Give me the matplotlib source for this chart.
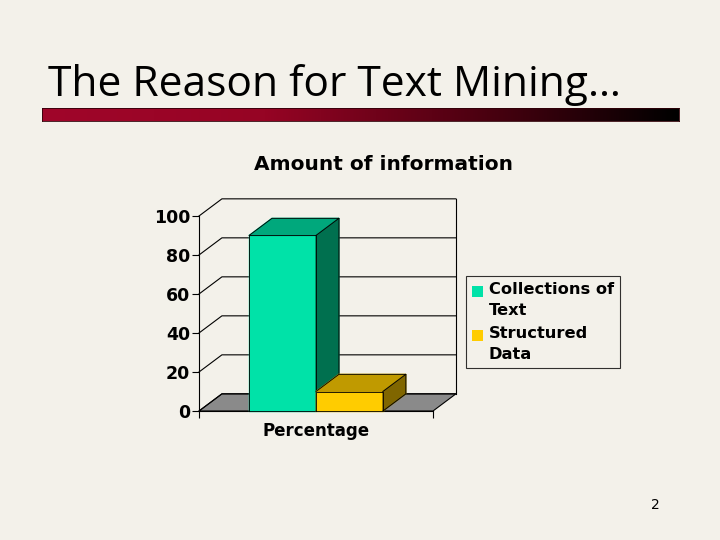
import numpy as np
import matplotlib.pyplot as plt
from matplotlib.patches import Patch, Rectangle
from matplotlib.legend_handler import HandlerPatch
from matplotlib.colors import LinearSegmentedColormap

# ── Data ─────────────────────────────────────────────
slide_title = "The Reason for Text Mining…"
chart_title = "Amount of information"
group_label = "Percentage"
series_names = ["Collections of\nText", "Structured\nData"]
values = [90, 10]
yticks = [0, 20, 40, 60, 80, 100]
page_no = "2"

# ── Styles ───────────────────────────────────────────
bg = "#f3f1ea"
front_cols = ["#00e2a8", "#ffcc00"]
top_cols = ["#00a87c", "#c09a00"]
side_cols = ["#00704f", "#806600"]
floor_col = "#8a8a8a"

fig = plt.figure(figsize=(7.2, 5.4), dpi=100, facecolor=bg)

# slide title + gradient rule
fig.text(48 / 720, 1 - 96 / 540, slide_title, fontsize=30.6, family="Open Sans",
         ha="left", va="baseline", color="black")
rule = fig.add_axes([42 / 720, 1 - 121 / 540, 637 / 720, 13 / 540])
cmap = LinearSegmentedColormap.from_list(
    "rule", [(0, "#a0062a"), (0.35, "#960424"), (0.7, "#4a0010"), (1, "#000000")])
rule.imshow(np.linspace(0, 1, 256)[None, :], aspect="auto", cmap=cmap)
rule.set_xticks([])
rule.set_yticks([])
for s in rule.spines.values():
    s.set_linewidth(0.6)
    s.set_color("#300008")

# chart area (front plane of the 3D plot)
ax = fig.add_axes([199 / 720, 1 - 411 / 540, 234 / 720, 195 / 540])
ax.set_facecolor("none")
ax.set_xlim(-0.5, 0.5)
ax.set_ylim(0, 100)
dx, dy = 0.098, 8.8       # depth offset of the 3D look
w = 0.286                 # bar width

for sp in ["top", "right"]:
    ax.spines[sp].set_visible(False)
ax.spines["left"].set_linewidth(0.8)
ax.spines["bottom"].set_linewidth(0.8)

# floor
ax.fill([-0.5, 0.5, 0.5 + dx, -0.5 + dx], [0, 0, dy, dy], color=floor_col,
        ec="black", lw=0.8, clip_on=False, zorder=1)
# walls / grid
for t in yticks:
    ax.plot([-0.5, -0.5 + dx, 0.5 + dx], [t, t + dy, t + dy], color="black",
            lw=0.8, clip_on=False, zorder=1)
ax.plot([0.5 + dx, 0.5 + dx], [dy, 100 + dy], color="black", lw=0.8,
        clip_on=False, zorder=1)

# 3D bars
x0 = -w
handles = []
for i, v in enumerate(values):
    xl, xr = x0 + i * w, x0 + (i + 1) * w
    z = 3 + 2 * i
    ax.fill([xl, xr, xr, xl], [0, 0, v, v], color=front_cols[i], clip_on=False, zorder=z)
    ax.fill([xl, xr, xr + dx, xl + dx], [v, v, v + dy, v + dy], color=top_cols[i],
            clip_on=False, zorder=z)
    ax.fill([xr, xr + dx, xr + dx, xr], [0, dy, v + dy, v], color=side_cols[i],
            clip_on=False, zorder=z)
    for xs, ys in [([xl, xr, xr, xl, xl], [0, 0, v, v, 0]),
                   ([xl, xl + dx, xr + dx, xr], [v, v + dy, v + dy, v]),
                   ([xr + dx, xr + dx, xr], [v + dy, dy, 0])]:
        ax.plot(xs, ys, color="black", lw=0.6, clip_on=False, zorder=z + 1)
    handles.append(Patch(facecolor=front_cols[i], edgecolor="none", label=series_names[i]))

ax.set_yticks(yticks)
ax.set_yticklabels([str(t) for t in yticks], fontweight="bold")
ax.tick_params(axis="y", length=5, width=0.8, labelsize=12.5, pad=1.5)
ax.set_xticks([0])
ax.set_xticklabels([group_label], fontsize=12, fontweight="bold")
ax.set_xticks([-0.5, 0.5], minor=True)
ax.tick_params(axis="x", which="major", length=0, pad=8)
ax.tick_params(axis="x", which="minor", length=5, width=0.8)

fig.text(384 / 720, 1 - 165 / 540, chart_title, fontsize=14.5, fontweight="bold",
         ha="center", va="center")


# legend square sits next to the first line of each label
def top_square(legend, orig_handle, xdescent, ydescent, width, height, fontsize):
    s = 0.72 * fontsize
    return Rectangle((-xdescent, -ydescent + height - s), s, s)


leg = fig.legend(handles=handles, loc="upper left",
                 bbox_to_anchor=(466 / 720, 1 - 276 / 540),
                 prop={"weight": "bold", "size": 11.7},
                 frameon=True, fancybox=False, handlelength=0.8, handleheight=2.5,
                 handletextpad=0.25, borderpad=0.35, labelspacing=0.5, borderaxespad=0,
                 handler_map={Patch: HandlerPatch(patch_func=top_square)})
for t in leg.get_texts():
    t.set_linespacing(1.5)
leg.get_frame().set_edgecolor("black")
leg.get_frame().set_linewidth(0.8)
leg.get_frame().set_facecolor(bg)

fig.text(655 / 720, 1 - 505 / 540, page_no, fontsize=10, ha="center", va="center")

plt.savefig("out.png", dpi=100, facecolor=bg)
